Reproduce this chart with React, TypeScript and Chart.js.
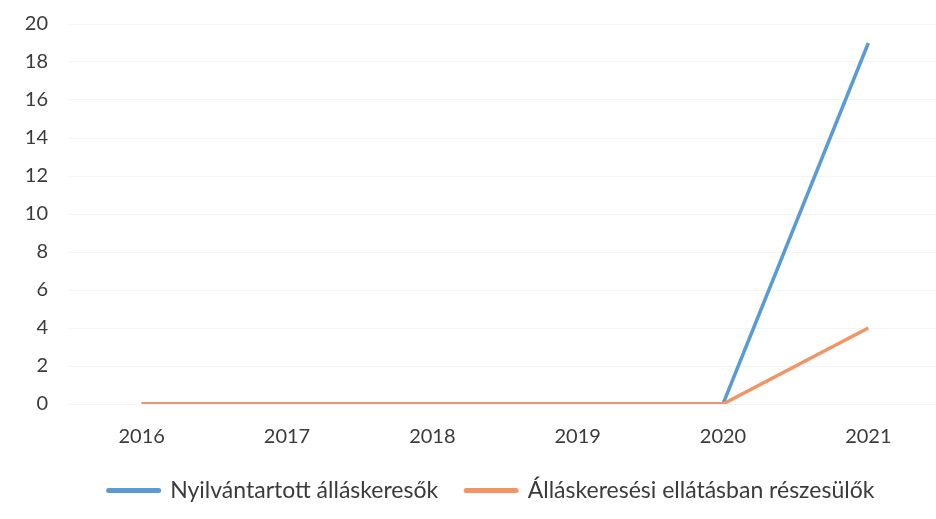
import React, { useEffect, useRef } from "react";
import { Chart, registerables } from "chart.js";

Chart.register(...registerables);

const years = ["2016", "2017", "2018", "2019", "2020", "2021"];
const registeredSeekers = [0, 0, 0, 0, 0, 19];
const benefitRecipients = [0, 0, 0, 0, 0, 4];
const seriesNames = ["Nyilvántartott álláskeresők", "Álláskeresési ellátásban részesülők"];
const yMin = 0;
const yMax = 20;
const yStep = 2;

const legendShift = {
  id: "legendShift",
  afterLayout(chart: any) {
    if (chart.legend) {
      chart.legend.left += 21;
      chart.legend.right += 21;
    }
  },
};

export default function App() {
  const ref = useRef<HTMLCanvasElement | null>(null);
  useEffect(() => {
    document.body.style.margin = "0";
    const ctx = ref.current!;
    const font = { family: "Lato, 'Open Sans', sans-serif", size: 20 };
    const legendFont = { family: "Lato, 'Open Sans', sans-serif", size: 23 };
    const chart = new Chart(ctx, {
      type: "line",
      data: {
        labels: years,
        datasets: [
          {
            label: seriesNames[0],
            data: registeredSeekers,
            borderColor: "#5B9BD5",
            backgroundColor: "#5B9BD5",
            borderWidth: 3.5,
            pointRadius: 0,
            tension: 0,
            order: 1,
          },
          {
            label: seriesNames[1],
            data: benefitRecipients,
            borderColor: "#F29463",
            backgroundColor: "#F29463",
            borderWidth: 3.5,
            pointRadius: 0,
            tension: 0,
            order: 0,
          },
        ],
      },
      plugins: [legendShift],
      options: {
        animation: false,
        responsive: false,
        layout: { padding: { left: 0, right: 4, top: 24, bottom: 7 } },
        plugins: {
          tooltip: { enabled: false },
          legend: {
            position: "bottom",
            labels: {
              font: legendFont,
              color: "#3b3b3b",
              usePointStyle: true,
              pointStyleWidth: 50,
              boxHeight: 5,
              padding: 28,
              generateLabels: (c: any) =>
                c.data.datasets.map((d: any, i: number) => ({
                  text: d.label,
                  fillStyle: d.borderColor,
                  strokeStyle: d.borderColor,
                  lineWidth: 5,
                  lineCap: "round",
                  pointStyle: "line",
                  hidden: false,
                  datasetIndex: i,
                  fontColor: "#3b3b3b",
                })),
            },
          },
        },
        scales: {
          x: {
            offset: true,
            grid: { display: false },
            border: { display: false },
            ticks: { font, color: "#3b3b3b", padding: 13 },
            afterFit: (s: any) => {
              s.height = 47;
            },
          },
          y: {
            min: yMin,
            max: yMax,
            ticks: { stepSize: yStep, font, color: "#3b3b3b", padding: 21 },
            grid: { color: "#f4f4f4", drawTicks: false },
            border: { display: false },
            afterFit: (s: any) => {
              s.width = 69;
              s.paddingTop = 0;
              s.paddingBottom = 0;
            },
          },
        },
      },
    });
    return () => chart.destroy();
  }, []);
  return (
    <div style={{ position: "absolute", left: 0, top: 0, width: 936, height: 519, overflow: "hidden", background: "#fff" }}>
      <canvas ref={ref} width={945} height={519} />
    </div>
  );
}
